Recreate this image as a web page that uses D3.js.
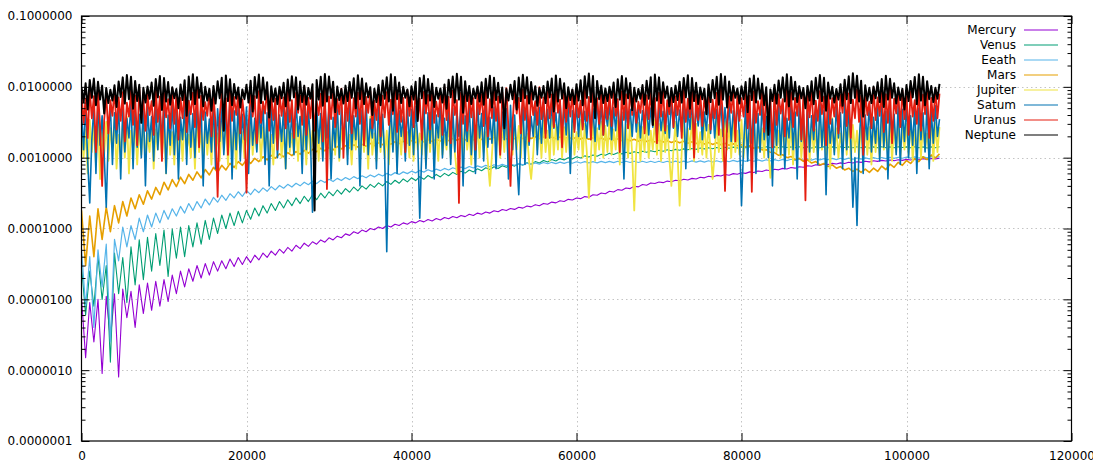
<!DOCTYPE html>
<html><head><meta charset="utf-8">
<script src="https://cdn.jsdelivr.net/npm/d3@7"></script>
<style>
body{margin:0;background:#fff}
text{font-family:"DejaVu Sans",sans-serif;font-size:12px;fill:#000}
</style>
</head><body>
<svg id="chart" width="1093" height="471"></svg>
<script>
// ---- data ----
const planets = ["Mercury","Venus","Eeath","Mars","Jupiter","Satum","Uranus","Neptune"];
const planetColors = ["#9400D3","#009E73","#56B4E9","#E69F00","#F0E442","#0072B2","#E51E10","#000000"];
const smoothX = d3.range(0, 104001, 500);   // sample positions of the inner planets
const denseX = d3.range(0, 104001, 250);    // sample positions of the outer planets
const xTickValues = [0,20000,40000,60000,80000,100000,120000];
const yTickValues = [1e-7,1e-6,1e-5,1e-4,1e-3,1e-2,1e-1];

const mercury = [
1.05e-5,1.5e-6,9e-6,2.5e-6,1.0e-5,9e-7,1.1e-5,2.7e-6,1.2e-5,8e-7,
1.4e-5,5.5e-6,1.3e-5,4e-6,1.6e-5,6.3e-6,1.7e-5,7e-6,1.8e-5,8e-6,
1.9e-5,9.3e-6,2.2e-5,1.2e-5,2.5e-5,1.5e-5,2.7e-5,1.8e-5,3.0e-5,2.0e-5,
3.2e-5,2.2e-5,3.4e-5,2.5e-5,3.5e-5,2.7e-5,3.7e-5,2.9e-5,3.9e-5,3.1e-5,
4.0e-5,3.3e-5,4.2e-5,3.6e-5,4.5e-5,3.9e-5,4.8e-5,4.2e-5,5.1e-5,4.5e-5,
5.4e-5,4.8e-5,5.8e-5,5.2e-5,6.2e-5,5.6e-5,6.5e-5,6.0e-5,6.9e-5,6.4e-5,
7.4e-5,6.9e-5,7.8e-5,7.4e-5,8.4e-5,8.0e-5,9.0e-5,8.5e-5,9.5e-5,9.0e-5,
1.0e-4,9.6e-5,1.05e-4,1.0e-4,1.1e-4,1.05e-4,1.15e-4,1.1e-4,1.2e-4,1.15e-4,
1.25e-4,1.2e-4,1.3e-4,1.24e-4,1.34e-4,1.28e-4,1.38e-4,1.32e-4,1.43e-4,1.37e-4,
1.48e-4,1.42e-4,1.53e-4,1.47e-4,1.59e-4,1.53e-4,1.65e-4,1.59e-4,1.71e-4,1.65e-4,
1.78e-4,1.72e-4,1.85e-4,1.79e-4,1.92e-4,1.86e-4,2.0e-4,1.94e-4,2.08e-4,2.02e-4,
2.17e-4,2.1e-4,2.26e-4,2.2e-4,2.36e-4,2.3e-4,2.47e-4,2.4e-4,2.58e-4,2.52e-4,
2.7e-4,2.64e-4,2.82e-4,2.76e-4,3.0e-4,2.94e-4,3.17e-4,3.1e-4,3.35e-4,3.28e-4,
3.54e-4,3.47e-4,3.74e-4,3.66e-4,3.95e-4,3.87e-4,4.17e-4,4.09e-4,4.4e-4,4.31e-4,
4.53e-4,4.44e-4,4.67e-4,4.58e-4,4.81e-4,4.71e-4,4.95e-4,4.85e-4,5.1e-4,5.0e-4,
5.3e-4,5.19e-4,5.46e-4,5.35e-4,5.62e-4,5.51e-4,5.78e-4,5.66e-4,5.95e-4,5.83e-4,
6.12e-4,6.0e-4,6.3e-4,6.17e-4,6.5e-4,6.37e-4,6.68e-4,6.55e-4,6.87e-4,6.73e-4,
7.06e-4,6.92e-4,7.26e-4,7.11e-4,7.46e-4,7.31e-4,7.7e-4,7.55e-4,7.95e-4,7.79e-4,
8.15e-4,7.99e-4,8.3e-4,8.13e-4,8.45e-4,8.28e-4,8.6e-4,8.43e-4,8.75e-4,8.58e-4,
8.9e-4,8.72e-4,9.05e-4,8.87e-4,9.15e-4,8.97e-4,9.25e-4,9.07e-4,9.35e-4,9.16e-4,
9.45e-4,9.26e-4,9.55e-4,9.36e-4,9.65e-4,9.46e-4,9.75e-4,9.56e-4,9.85e-4];

const venus = [
3e-5,6e-6,2.5e-5,8e-6,4e-5,1e-5,3e-5,1.3e-6,4.5e-5,1.2e-5,
3.9e-5,9e-6,5.5e-5,1.6e-5,6.9e-5,1.9e-5,7.5e-5,2.5e-5,8.5e-5,3.0e-5,
9.5e-5,2.1e-5,9.8e-5,3.8e-5,1.05e-4,4e-5,1.1e-4,5.5e-5,1.2e-4,6e-5,
1.3e-4,7e-5,1.4e-4,8.5e-5,1.55e-4,1.0e-4,1.65e-4,1.1e-4,1.75e-4,1.2e-4,
1.8e-4,1.35e-4,1.95e-4,1.5e-4,2.1e-4,1.65e-4,2.25e-4,1.8e-4,2.4e-4,1.95e-4,
2.55e-4,2.1e-4,2.7e-4,2.25e-4,2.85e-4,2.4e-4,3.0e-4,2.55e-4,3.15e-4,2.7e-4,
3.3e-4,2.9e-4,3.5e-4,3.05e-4,3.65e-4,3.25e-4,3.85e-4,3.4e-4,4.0e-4,3.6e-4,
4.2e-4,3.8e-4,4.4e-4,4.0e-4,4.6e-4,4.2e-4,4.8e-4,4.35e-4,5.0e-4,4.55e-4,
5.2e-4,4.75e-4,5.4e-4,4.95e-4,5.6e-4,5.15e-4,5.8e-4,5.35e-4,6.0e-4,5.55e-4,
6.2e-4,5.8e-4,6.45e-4,6.05e-4,6.7e-4,6.3e-4,6.95e-4,6.55e-4,7.2e-4,6.8e-4,
7.45e-4,7.05e-4,7.7e-4,7.3e-4,7.95e-4,7.6e-4,8.2e-4,7.85e-4,8.5e-4,8.1e-4,
8.8e-4,8.4e-4,9.1e-4,8.7e-4,9.4e-4,9.0e-4,9.7e-4,9.3e-4,1.0e-3,9.6e-4,
1.03e-3,9.9e-4,1.06e-3,1.02e-3,1.09e-3,1.05e-3,1.12e-3,1.08e-3,1.15e-3,1.11e-3,
1.17e-3,1.13e-3,1.19e-3,1.15e-3,1.21e-3,1.17e-3,1.23e-3,1.19e-3,1.25e-3,1.21e-3,
1.27e-3,1.23e-3,1.29e-3,1.25e-3,1.31e-3,1.27e-3,1.33e-3,1.29e-3,1.35e-3,1.31e-3,
1.37e-3,1.33e-3,1.38e-3,1.34e-3,1.39e-3,1.35e-3,1.40e-3,1.36e-3,1.41e-3,1.37e-3,
1.42e-3,1.38e-3,1.43e-3,1.38e-3,1.42e-3,1.37e-3,1.43e-3,1.38e-3,1.42e-3,1.38e-3,
1.43e-3,1.39e-3,1.42e-3,1.38e-3,1.43e-3,1.38e-3,1.42e-3,1.37e-3,1.42e-3,1.38e-3,
1.43e-3,1.38e-3,1.42e-3,1.38e-3,1.43e-3,1.39e-3,1.42e-3,1.38e-3,1.43e-3,1.38e-3,
1.42e-3,1.37e-3,1.42e-3,1.38e-3,1.43e-3,1.38e-3,1.42e-3,1.38e-3,1.43e-3,1.39e-3,
1.42e-3,1.38e-3,1.43e-3,1.38e-3,1.42e-3,1.37e-3,1.42e-3,1.38e-3,1.43e-3];

const earth = [
5e-5,8e-6,4e-5,4e-6,5e-5,1.5e-5,6e-5,2.5e-6,7e-5,3.5e-5,
1.05e-4,5.5e-5,1.1e-4,7e-5,1.4e-4,9e-5,1.55e-4,1.05e-4,1.65e-4,1.2e-4,
1.8e-4,1.35e-4,1.9e-4,1.5e-4,2.05e-4,1.65e-4,2.25e-4,1.8e-4,2.4e-4,1.95e-4,
2.6e-4,2.15e-4,2.75e-4,2.35e-4,2.95e-4,2.5e-4,3.1e-4,2.7e-4,3.3e-4,2.85e-4,
3.45e-4,3.0e-4,3.6e-4,3.2e-4,3.75e-4,3.35e-4,3.9e-4,3.5e-4,4.05e-4,3.7e-4,
4.2e-4,3.85e-4,4.35e-4,4.0e-4,4.5e-4,4.15e-4,4.65e-4,4.3e-4,4.8e-4,4.45e-4,
4.95e-4,4.6e-4,5.1e-4,4.75e-4,5.25e-4,4.9e-4,5.4e-4,5.05e-4,5.55e-4,5.2e-4,
5.7e-4,5.35e-4,5.85e-4,5.5e-4,6.0e-4,5.65e-4,6.15e-4,5.8e-4,6.3e-4,5.95e-4,
6.45e-4,6.1e-4,6.6e-4,6.25e-4,6.75e-4,6.4e-4,6.9e-4,6.55e-4,7.05e-4,6.7e-4,
7.2e-4,6.85e-4,7.35e-4,7.0e-4,7.5e-4,7.15e-4,7.65e-4,7.3e-4,7.8e-4,7.45e-4,
7.95e-4,7.6e-4,8.05e-4,7.7e-4,8.15e-4,7.8e-4,8.25e-4,7.9e-4,8.35e-4,8.0e-4,
8.45e-4,8.1e-4,8.55e-4,8.2e-4,8.6e-4,8.25e-4,8.65e-4,8.3e-4,8.7e-4,8.35e-4,
8.75e-4,8.4e-4,8.8e-4,8.45e-4,8.8e-4,8.45e-4,8.85e-4,8.5e-4,8.85e-4,8.5e-4,
8.9e-4,8.55e-4,8.9e-4,8.55e-4,8.9e-4,8.55e-4,8.9e-4,8.55e-4,8.9e-4,8.55e-4,
8.9e-4,8.55e-4,8.9e-4,8.6e-4,8.95e-4,8.6e-4,8.95e-4,8.6e-4,9.0e-4,8.65e-4,
9.0e-4,8.65e-4,9.05e-4,8.7e-4,9.05e-4,8.7e-4,9.1e-4,8.75e-4,9.15e-4,8.8e-4,
9.2e-4,8.85e-4,9.25e-4,8.9e-4,9.3e-4,8.95e-4,9.35e-4,9.0e-4,9.4e-4,9.05e-4,
9.45e-4,9.1e-4,9.5e-4,9.15e-4,9.55e-4,9.2e-4,9.6e-4,9.25e-4,9.65e-4,9.3e-4,
9.7e-4,9.35e-4,9.75e-4,9.4e-4,9.8e-4,9.45e-4,9.85e-4,9.5e-4,9.9e-4,9.55e-4,
9.95e-4,9.6e-4,1.0e-3,9.65e-4,1.005e-3,9.7e-4,1.01e-3,9.75e-4,1.015e-3,9.8e-4,
1.02e-3,9.85e-4,1.025e-3,9.9e-4,1.03e-3,9.95e-4,1.035e-3,1.0e-3,1.04e-3];

const mars = [
1.8e-4,3e-5,1.5e-4,4e-5,1.9e-4,7e-5,2.0e-4,9e-5,2.1e-4,1.2e-4,
2.4e-4,1.5e-4,2.7e-4,1.9e-4,3.0e-4,2.2e-4,3.4e-4,2.6e-4,3.8e-4,3.0e-4,
4.5e-4,3.5e-4,4.9e-4,3.9e-4,5.3e-4,4.3e-4,5.8e-4,4.8e-4,6.3e-4,5.2e-4,
6.8e-4,5.7e-4,7.3e-4,6.2e-4,7.8e-4,6.7e-4,8.3e-4,7.3e-4,8.8e-4,7.8e-4,
9.3e-4,8.3e-4,9.8e-4,8.8e-4,1.03e-3,9.3e-4,1.08e-3,9.8e-4,1.13e-3,1.03e-3,
1.18e-3,1.07e-3,1.22e-3,1.12e-3,1.27e-3,1.16e-3,1.31e-3,1.21e-3,1.36e-3,1.25e-3,
1.40e-3,1.29e-3,1.44e-3,1.33e-3,1.48e-3,1.37e-3,1.52e-3,1.41e-3,1.55e-3,1.45e-3,
1.59e-3,1.48e-3,1.62e-3,1.52e-3,1.65e-3,1.55e-3,1.68e-3,1.58e-3,1.71e-3,1.61e-3,
1.74e-3,1.64e-3,1.77e-3,1.67e-3,1.80e-3,1.69e-3,1.82e-3,1.72e-3,1.84e-3,1.74e-3,
1.86e-3,1.76e-3,1.88e-3,1.78e-3,1.90e-3,1.79e-3,1.91e-3,1.81e-3,1.93e-3,1.82e-3,
1.94e-3,1.83e-3,1.95e-3,1.84e-3,1.96e-3,1.85e-3,1.96e-3,1.86e-3,1.97e-3,1.86e-3,
1.97e-3,1.86e-3,1.97e-3,1.86e-3,1.96e-3,1.85e-3,1.96e-3,1.85e-3,1.95e-3,1.84e-3,
1.94e-3,1.83e-3,1.93e-3,1.82e-3,1.91e-3,1.80e-3,1.89e-3,1.78e-3,1.87e-3,1.76e-3,
1.85e-3,1.74e-3,1.84e-3,1.73e-3,1.82e-3,1.71e-3,1.80e-3,1.69e-3,1.78e-3,1.67e-3,
1.76e-3,1.66e-3,1.74e-3,1.64e-3,1.72e-3,1.62e-3,1.70e-3,1.60e-3,1.68e-3,1.58e-3,
1.66e-3,1.56e-3,1.64e-3,1.54e-3,1.62e-3,1.52e-3,1.60e-3,1.50e-3,1.57e-3,1.47e-3,
1.52e-3,1.42e-3,1.47e-3,1.36e-3,1.40e-3,1.29e-3,1.30e-3,1.19e-3,1.18e-3,1.08e-3,
1.10e-3,1.00e-3,1.04e-3,9.4e-4,9.8e-4,8.9e-4,9.3e-4,8.4e-4,8.8e-4,7.9e-4,
8.3e-4,7.5e-4,7.9e-4,7.1e-4,7.5e-4,6.7e-4,7.1e-4,6.4e-4,6.9e-4,6.2e-4,
6.9e-4,6.2e-4,7.1e-4,6.4e-4,7.6e-4,6.8e-4,8.1e-4,7.3e-4,8.6e-4,7.8e-4,
9.1e-4,8.3e-4,9.7e-4,8.8e-4,1.03e-3,9.4e-4,1.09e-3,9.9e-4,1.13e-3];

const jupiter = [
.0031,.0010,.0025,.0006,.0034,.0012,.0028,.0008,.0036,.0005,.0023,.0011,.0032,.0009,.0026,.0013,
.0035,.0007,.0021,.0012,.0030,.0010,.0038,.0006,.0024,.0013,.0033,.0008,.0027,.0011,.0036,.0009,
.0022,.0012,.0031,.0007,.0025,.0013,.0034,.0010,.0029,.0006,.0037,.0011,.0023,.0008,.0032,.0012,
.0027,.0009,.0035,.0013,.0021,.0010,.0030,.0007,.0038,.0012,.0024,.0009,.0033,.0011,.0026,.0008,
.0034,.0012,.0022,.0009,.0031,.0013,.0036,.0008,.0025,.0011,.0029,.0007,.0037,.0012,.0023,.0010,
.0030,.0008,.0038,.0011,.0024,.0013,.0032,.0009,.0027,.0012,.0035,.0010,.0021,.0008,.0031,.0013,
.0036,.0010,.0026,.0007,.0033,.0012,.0022,.0011,.0030,.0009,.0038,.0013,.0025,.0008,.0034,.0011,
.0024,.0013,.0031,.0009,.0037,.0010,.0028,.0012,.0023,.0008,.0032,.0011,.0036,.0009,.0026,.0013,
.0033,.0011,.0021,.0008,.0029,.0013,.0035,.0010,.0025,.0012,.0030,.0007,.0038,.0011,.0022,.0009,
.0027,.0012,.0034,.0010,.0024,.0008,.0031,.0013,.0037,.0009,.0026,.0011,.0032,.0012,.0023,.0010,
.0036,.0009,.0028,.0013,.0022,.0011,.0033,.0008,.0030,.0012,.0038,.0010,.0025,.0009,.0034,.0011,
.0021,.0013,.0031,.0010,.0037,.0012,.0006,.0009,.0027,.0011,.0035,.0013,.0024,.0008,.0032,.0012,
.0029,.0010,.0036,.0012,.0023,.0009,.0004,.0011,.0034,.0013,.0026,.0010,.0031,.0012,.0038,.0009,
.0025,.0011,.0032,.0013,.0028,.0010,.0035,.0012,.0022,.0009,.0005,.0011,.0037,.0013,.0030,.0010,
.0033,.0012,.0024,.0009,.0036,.0011,.0029,.0013,.0038,.0010,.0027,.0012,.0031,.0008,.0035,.0011,
.0023,.0013,.0034,.0010,.0030,.0012,.00027,.0011,.0037,.0009,.0026,.0013,.0032,.0010,.0028,.0012,
.0036,.0011,.0025,.0013,.0033,.0008,.0038,.0012,.0029,.0010,.0035,.0011,.00018,.0013,.0031,.0009,
.0027,.0012,.0037,.0010,.0024,.0013,.0034,.0011,.0030,.0009,.0036,.0012,.0028,.0010,.0004,.0013,
.0032,.0011,.00021,.0012,.0035,.0010,.0026,.0013,.0038,.0009,.0030,.0012,.0023,.0011,.0034,.0010,
.0029,.0013,.0005,.0011,.0036,.0012,.0025,.0009,.0033,.0013,.0031,.0010,.0037,.0012,.0024,.0011,
.0034,.0010,.0028,.0013,.0022,.0011,.0035,.0009,.0030,.0012,.0026,.0010,.0038,.0013,.00052,.0011,
.0031,.0012,.0024,.0010,.0036,.0013,.0029,.0011,.0033,.0008,.0027,.0012,.0035,.0010,.0023,.0013,
.0037,.0009,.0030,.0012,.0025,.0010,.0034,.0013,.0028,.0011,.0032,.0007,.0036,.0012,.0026,.0010,
.0022,.0013,.0033,.0011,.0038,.0009,.0029,.0012,.0024,.0010,.0035,.0013,.0031,.0011,.0027,.0008,
.0035,.0012,.0026,.0010,.0032,.0013,.0023,.0011,.0037,.0009,.0030,.0012,.0034,.0010,.0028,.0013,
.0030,.0011,.0036,.0009,.0025,.0012,.0033,.0010,.0029,.0013,.0022,.0011,.0038,.0009,.0031,.0012,
.0027];

const saturn = [
.0046,.0013,.0057,.0009,.00023,.0018,.0052,.0006,.0061,.0015,.0039,.0011,.0002,.0021,.0055,.0008,
.0043,.0016,.0059,.0005,.0048,.0012,.0036,.0019,.0063,.0007,.0050,.0014,.0041,.0010,.0058,.0004,
.0053,.0017,.0038,.0009,.0062,.0013,.0045,.0020,.0056,.0006,.0040,.0015,.0060,.0011,.0047,.0005,
.0037,.0018,.0054,.0008,.0064,.0014,.0042,.0010,.0051,.0019,.0058,.0004,.0044,.0016,.0035,.0012,
.0061,.0007,.0049,.0017,.0055,.0011,.0039,.0020,.0063,.0005,.0046,.0013,.0057,.0009,.0041,.0018,
.0052,.0006,.0060,.0015,.0036,.0012,.0048,.0019,.0059,.0008,.0043,.0004,.0054,.0016,.0062,.0010,
.0040,.0017,.0050,.0007,.0057,.0014,.0045,.0011,.0064,.0020,.0038,.0006,.0053,.0013,.0047,.0018,
.00017,.0012,.0056,.0016,.0042,.0009,.0061,.0019,.0049,.0005,.0037,.0014,.0058,.0010,.0051,.0017,
.0044,.0008,.0063,.0013,.0039,.0018,.0054,.0004,.0047,.0015,.0060,.0011,.0035,.0019,.0052,.0007,
.0059,.0014,.0041,.0010,.000047,.0017,.0055,.0012,.0062,.0006,.0046,.0020,.0038,.0009,.0057,.0015,
.0048,.0011,.0053,.0018,.00014,.0013,.0060,.0007,.0043,.0016,.0056,.0005,.0040,.0019,.0064,.0010,
.0036,.0015,.0058,.0008,.0050,.0012,.0045,.0020,.0061,.0004,.0039,.0017,.0054,.0011,.0047,.0006,
.0062,.0019,.0042,.0009,.0057,.0014,.0037,.0016,.0052,.0007,.0059,.0012,.0044,.0018,.0049,.0005,
.0055,.0013,.0040,.0010,.0003,.0017,.0063,.0008,.0046,.0015,.0038,.0020,.0058,.0011,.0051,.0016,
.0060,.0022,.0048,.0019,.0055,.0026,.0043,.0018,.0062,.0024,.0050,.0021,.0057,.0006,.0046,.0025,
.0053,.0020,.0061,.0027,.0045,.0019,.0058,.0023,.0049,.0017,.0064,.0025,.0052,.0021,.0047,.0028,
.0059,.0018,.0051,.0024,.0063,.0022,.0044,.0005,.0056,.0026,.0048,.0020,.0060,.0023,.0054,.0019,
.0046,.0025,.0057,.0021,.0050,.0027,.0062,.0018,.0053,.0024,.0045,.0022,.0058,.0019,.0064,.0026,
.0055,.0020,.0047,.0023,.0061,.0007,.0052,.0025,.0059,.0021,.0049,.0028,.0056,.0018,.0044,.0024,
.0063,.0022,.0054,.0019,.0048,.0026,.0060,.0020,.0051,.0023,.0057,.0017,.0046,.0025,.0062,.0021,
.00021,.0014,.0055,.0009,.0047,.0016,.0059,.0006,.0042,.0012,.0061,.0018,.0038,.0010,.0053,.0004,
.0045,.0015,.0063,.0011,.0050,.0007,.0036,.0019,.0057,.0013,.0044,.0005,.0060,.0017,.0041,.0009,
.0058,.0012,.0039,.0018,.0054,.0008,.0062,.0014,.0047,.0003,.0051,.0016,.0035,.0011,.0056,.0019,
.0043,.0007,.0060,.0013,.0049,.0017,.0002,.0010,.00011,.0015,.0053,.0006,.0040,.0018,.0058,.0012,
.0037,.0016,.0055,.0009,.0064,.0014,.0045,.0005,.0052,.0019,.0041,.0011,.0059,.0008,.0048,.0017,
.0061,.0010,.0039,.0015,.0056,.0006,.0050,.0018,.0043,.0012,.0062,.0007,.0046,.0016,.0054,.0020,
.0035];

const uranus = [
.0082,.0031,.0068,.0019,.0091,.0036,.0074,.0012,.0087,.0028,.0004,.0034,.0079,.0022,.0065,.0039,
.0093,.0025,.0071,.0033,.0084,.0017,.0060,.0038,.0089,.0029,.0076,.0015,.0097,.0035,.0069,.0024,
.0080,.0040,.0063,.0021,.0092,.0032,.0073,.0009,.0085,.0037,.0067,.0026,.0095,.0030,.0078,.0018,
.0070,.0036,.0088,.0023,.0064,.0041,.0083,.0027,.0098,.0014,.0075,.0034,.0061,.0039,.0090,.0020,
.0077,.0030,.00028,.0037,.0086,.0025,.0069,.0011,.0094,.0033,.0072,.0040,.0081,.0022,.0066,.0035,
.00032,.0028,.0090,.0038,.0074,.0016,.0087,.0031,.0062,.0042,.0096,.0024,.0079,.0034,.0068,.0013,
.0085,.0039,.0071,.0026,.0093,.0032,.0065,.0019,.0082,.0043,.0076,.0029,.0099,.0021,.0070,.0036,
.0088,.0024,.0063,.0040,.0080,.0017,.0092,.00036,.0073,.0035,.0086,.0027,.0067,.0041,.0094,.0010,
.0078,.0033,.0090,.0022,.0069,.0038,.0083,.0030,.0096,.0015,.0072,.0043,.0087,.0026,.0064,.0034,
.0091,.0020,.0075,.0037,.0084,.0029,.0066,.0041,.0097,.0023,.0079,.0032,.0070,.0012,.0089,.0039,
.0074,.0027,.0093,.0035,.0068,.0018,.0085,.0042,.0077,.0025,.0095,.0031,.0062,.0038,.0081,.0021,
.0098,.0034,.0072,.0016,.0088,.0040,.0065,.00023,.0083,.0030,.0091,.0024,.0076,.0037,.0069,.0013,
.0086,.0041,.0079,.0028,.0094,.0020,.0067,.0036,.0090,.0033,.0073,.0011,.0084,.0039,.0096,.0026,
.0004,.0031,.0087,.0042,.0070,.0022,.0092,.0034,.0075,.0017,.0082,.0040,.0063,.0029,.0099,.0035,
.0071,.0019,.0089,.0036,.0078,.0027,.0095,.0043,.0066,.0014,.0085,.0032,.0074,.0038,.0090,.0023,
.0080,.0037,.0064,.0025,.0097,.0033,.0072,.0018,.0088,.0041,.0069,.0030,.0093,.0021,.0077,.0035,
.0084,.0028,.0091,.0039,.0067,.0012,.0086,.0034,.0079,.0026,.0098,.0040,.0073,.0031,.0062,.0043,
.0095,.0022,.0076,.0035,.0089,.0029,.0070,.0016,.0083,.0038,.0092,.0024,.0065,.0041,.0087,.0027,
.0073,.0040,.0081,.0019,.0096,.0032,.0068,.0037,.0090,.0010,.0077,.0034,.0085,.0028,.0071,.0042,
.0093,.0025,.0066,.0036,.0082,.0021,.0097,.0039,.00034,.0030,.0074,.0043,.0088,.0017,.0079,.0033,
.0069,.0038,.0091,.0026,.0075,.00033,.0086,.0031,.0063,.0040,.0094,.0023,.0080,.0035,.0072,.0014,
.0089,.0029,.0078,.0042,.0067,.0020,.0096,.0034,.0084,.0027,.0070,.0039,.0092,.0018,.0076,.00025,
.0083,.0037,.0090,.0024,.0064,.0033,.0087,.0041,.0073,.0015,.0098,.0030,.0069,.0038,.0085,.0022,
.0077,.0043,.0094,.0028,.0081,.0019,.0066,.0036,.0091,.0032,.0075,.0011,.0088,.0040,.0062,.0026,
.0097,.0034,.0071,.0039,.0085,.0023,.0079,.0031,.0093,.0016,.0068,.0042,.0082,.0027,.0090,.0035,
.0074,.0021,.0086,.0038,.0065,.0030,.0095,.0024,.0078,.0041,.0087,.0019,.0070,.0033,.0092,.0036,
.0080];

const neptune = [
.0098,.0061,.0112,.0048,.0125,.0070,.0131,.0055,.0118,.0066,.0104,.0042,.0096,.0059,.0091,.0064,
.0105,.0052,.0119,.0072,.0136,.0058,.0147,.0067,.0139,.0049,.0121,.0063,.0107,.0031,.0097,.0060,
.0101,.0068,.0115,.0054,.0129,.0071,.0142,.0047,.0133,.0062,.0117,.0056,.0099,.0069,.0093,.0050,
.0108,.0065,.0124,.0039,.0140,.0066,.0151,.0057,.0137,.0070,.0113,.0053,.0100,.0064,.0094,.0046,
.0103,.0058,.0120,.0069,.0134,.0024,.0145,.0063,.0128,.0055,.0110,.0068,.0098,.0051,.0092,.0067,
.0107,.0060,.0122,.0045,.0138,.0070,.0149,.0059,.0135,.0066,.0116,.0037,.0102,.0062,.0095,.0057,
.0100,.0069,.0114,.0053,.0127,.0064,.0141,.0071,.0136,.0048,.0119,.0061,.0104,.0056,.0096,.0068,
.0109,.00018,.0125,.0066,.0139,.0054,.0152,.0062,.0140,.0069,.0118,.0044,.0101,.0065,.0093,.0058,
.0104,.0063,.0117,.0070,.0132,.0050,.0146,.0067,.0131,.0057,.0112,.0071,.0099,.0040,.0094,.0061,
.0106,.0055,.0123,.0068,.0137,.0062,.0150,.0046,.0138,.0067,.0115,.0059,.0100,.0070,.0092,.0053,
.0102,.0066,.0118,.0033,.0133,.0069,.0144,.0058,.0129,.0064,.0111,.0052,.0097,.0068,.0095,.0060,
.0108,.0049,.0126,.0071,.0140,.0060,.0153,.0066,.0139,.0043,.0120,.0063,.0103,.0057,.0094,.0069,
.0101,.0062,.0116,.0056,.0130,.0070,.0143,.0051,.0134,.0065,.0114,.0060,.0098,.0026,.0093,.0064,
.0107,.0067,.0121,.0048,.0135,.0063,.0148,.0069,.0137,.0058,.0117,.0066,.0102,.0054,.0096,.0070,
.0103,.0059,.0119,.0071,.0131,.0045,.0145,.0062,.0130,.0068,.0112,.0050,.0099,.0065,.0092,.0057,
.0109,.0064,.0124,.0055,.0141,.0070,.0154,.0061,.0142,.0036,.0121,.0067,.0104,.0059,.0095,.0063,
.0100,.0070,.0115,.0052,.0128,.0066,.0142,.0057,.0132,.0069,.0113,.0047,.0097,.0062,.0093,.0068,
.0106,.0056,.0122,.0068,.0137,.0029,.0149,.0064,.0136,.0059,.0116,.0070,.0101,.0053,.0096,.0061,
.0104,.0065,.0118,.0060,.0133,.0071,.0146,.0049,.0133,.0063,.0114,.0057,.0098,.0067,.0094,.0041,
.0108,.0061,.0125,.0069,.0139,.0056,.0152,.0066,.0140,.0051,.0119,.0064,.0103,.0070,.0095,.0058,
.0102,.0067,.0117,.0044,.0131,.0065,.0144,.0060,.0131,.0068,.0111,.0055,.0099,.0021,.0092,.0063,
.0107,.0058,.0123,.0070,.0136,.0062,.0150,.0053,.0138,.0066,.0118,.0061,.0102,.0069,.0096,.0050,
.0103,.0064,.0120,.0057,.0134,.0069,.0147,.0063,.0134,.0046,.0115,.0068,.0100,.0060,.0093,.0066,
.0109,.0054,.0126,.0067,.0141,.0059,.0155,.0070,.0143,.0062,.0122,.0038,.0105,.0064,.0097,.0059,
.0101,.0069,.0116,.0061,.0129,.0052,.0143,.0066,.0130,.0070,.0112,.0058,.0098,.0065,.0094,.0048,
.0106,.0063,.0121,.0071,.0138,.0057,.0151,.0064,.0139,.0055,.0120,.0067,.0103,.0061,.0097,.0068,
.0110];

const seriesValues = [mercury, venus, earth, mars, jupiter, saturn, uranus, neptune];
const seriesX = [smoothX, smoothX, smoothX, smoothX, denseX, denseX, denseX, denseX];

// ---- layout ----
const svg = d3.select("#chart");
const L = 81.5, R = 1071.5, T = 16, B = 441;
const x = d3.scaleLinear().domain([0,120000]).range([L,R]);
const y = d3.scaleLog().domain([1e-7,1e-1]).range([B,T]);

// grid
const grid = svg.append("g").attr("stroke","#c4c4c4").attr("stroke-width",1).attr("stroke-dasharray","1.5,3");
xTickValues.slice(1,-1).forEach(v=>{
  grid.append("line").attr("x1",Math.round(x(v))+0.5).attr("x2",Math.round(x(v))+0.5).attr("y1",T).attr("y2",B);
});
yTickValues.slice(1,-1).forEach(v=>{
  grid.append("line").attr("x1",L).attr("x2",R).attr("y1",Math.round(y(v))+0.5).attr("y2",Math.round(y(v))+0.5);
});

svg.append("clipPath").attr("id","plotclip").append("rect").attr("x",L).attr("y",T).attr("width",R-L).attr("height",B-T);

const widths = [1.1,1.1,1.2,1.6,1.8,1.6,1.8,2.0];
const lines = svg.append("g").attr("clip-path","url(#plotclip)");
seriesValues.forEach((vals,k)=>{
  const xs = seriesX[k];
  const line = d3.line().x((d,i)=>x(xs[i])).y(d=>y(d)).defined((d,i)=>i<xs.length);
  lines.append("path").datum(vals)
    .attr("fill","none").attr("stroke",planetColors[k])
    .attr("stroke-width",widths[k]).attr("stroke-linejoin","round")
    .attr("d",line);
});

// ticks
const minorY = [];
for (let e=-7; e<-1; e++) for (let m=2; m<=9; m++) minorY.push(m*Math.pow(10,e));
const fmt = d3.format(".7f");
function styleAxis(g){ g.select(".domain").remove(); g.selectAll("line").attr("stroke","#000"); g.selectAll("text").attr("fill","#000").style("font-family","DejaVu Sans, sans-serif").style("font-size","12px"); }

svg.append("g").attr("transform",`translate(${L},0)`)
  .call(d3.axisLeft(y).tickValues(yTickValues).tickFormat(fmt).tickSize(-8).tickPadding(9)).call(styleAxis);
svg.append("g").attr("transform",`translate(${L},0)`)
  .call(d3.axisLeft(y).tickValues(minorY).tickFormat("").tickSize(-4)).call(styleAxis);
svg.append("g").attr("transform",`translate(${R},0)`)
  .call(d3.axisRight(y).tickValues(yTickValues).tickFormat("").tickSize(-8)).call(styleAxis);
svg.append("g").attr("transform",`translate(${R},0)`)
  .call(d3.axisRight(y).tickValues(minorY).tickFormat("").tickSize(-4)).call(styleAxis);
svg.append("g").attr("transform",`translate(0,${B})`)
  .call(d3.axisBottom(x).tickValues(xTickValues).tickFormat(d3.format("d")).tickSize(-8).tickPadding(10)).call(styleAxis);
svg.append("g").attr("transform",`translate(0,${T})`)
  .call(d3.axisTop(x).tickValues(xTickValues).tickFormat("").tickSize(-8)).call(styleAxis);

// border
svg.append("rect").attr("x",L).attr("y",T).attr("width",R-L).attr("height",B-T)
  .attr("fill","none").attr("stroke","#000").attr("stroke-width",1.2);

// legend
const lg = svg.append("g");
planets.forEach((p,k)=>{
  const yy = 30 + 15*k;
  lg.append("text").attr("x",1016).attr("y",yy).attr("text-anchor","end").attr("dominant-baseline","middle").text(p);
  lg.append("line").attr("x1",1024).attr("x2",1058).attr("y1",yy).attr("y2",yy)
    .attr("stroke",planetColors[k]).attr("stroke-opacity",0.5).attr("stroke-width",2);
});
</script>
</body></html>
